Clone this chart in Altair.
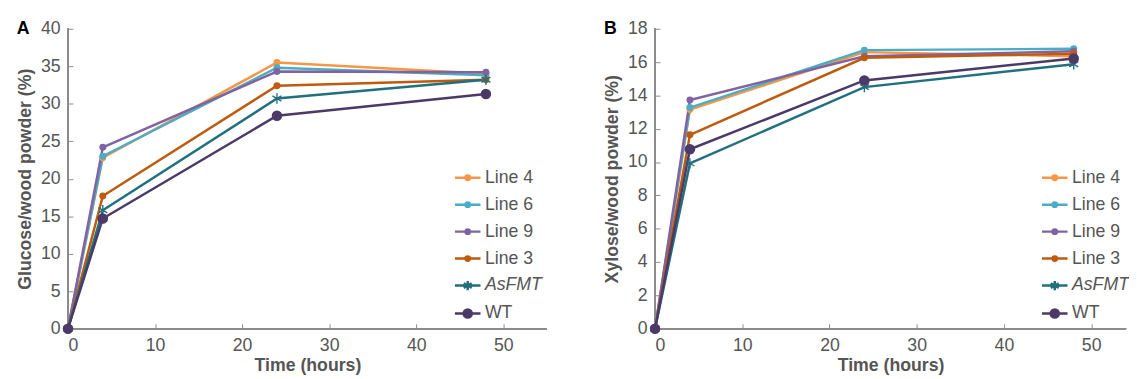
import altair as alt
import pandas as pd

# ---------------- data ----------------
times = [0, 4, 24, 48]
series_names = ["Line 4", "Line 6", "Line 9", "Line 3", "AsFMT", "WT"]
series_colors = ["#F79646", "#4BACC6", "#8064A2", "#BE5B0E", "#21707E", "#4B3A67"]

glucose_line4 = [0, 22.8, 35.5, 34.0]
glucose_line6 = [0, 23.0, 34.8, 33.8]
glucose_line9 = [0, 24.2, 34.3, 34.2]
glucose_line3 = [0, 17.7, 32.4, 33.2]
glucose_asfmt = [0, 15.8, 30.7, 33.2]
glucose_wt = [0, 14.7, 28.4, 31.3]

xylose_line4 = [0, 13.15, 16.6, 16.35]
xylose_line6 = [0, 13.27, 16.72, 16.8]
xylose_line9 = [0, 13.72, 16.35, 16.65]
xylose_line3 = [0, 11.64, 16.26, 16.5]
xylose_asfmt = [0, 9.92, 14.5, 15.87]
xylose_wt = [0, 10.77, 14.9, 16.22]

glucose_ticks = [0, 5, 10, 15, 20, 25, 30, 35, 40]
xylose_ticks = [0, 2, 4, 6, 8, 10, 12, 14, 16, 18]
time_ticks = [0, 10, 20, 30, 40, 50]


def long_table(cols):
    rows = []
    for name, colr, vals in zip(series_names, series_colors, cols):
        for t, v in zip(times, vals):
            rows.append({"time": t, "value": v, "series": name, "colr": colr})
    return pd.DataFrame(rows)


glucose_df = long_table([glucose_line4, glucose_line6, glucose_line9,
                         glucose_line3, glucose_asfmt, glucose_wt])
xylose_df = long_table([xylose_line4, xylose_line6, xylose_line9,
                        xylose_line3, xylose_asfmt, xylose_wt])

# ---------------- styling ----------------
FONT = "Liberation Sans"
AXIS_GREY = "#8c8c8c"
TEXT_GREY = "#555555"
STAR = "M0,-1L0,1M-0.87,-0.5L0.87,0.5M-0.87,0.5L0.87,-0.5"


def ring(r):
    return "M-%g,0A%g,%g 0 1,0 %g,0A%g,%g 0 1,0 -%g,0Z" % (r, r, r, r, r, r, r)


LEG_DOT = "M-1,0L1,0" + ring(0.17) + ring(0.07)
LEG_BIG = "M-1,0L1,0" + ring(0.32) + ring(0.2) + ring(0.08)
LEG_STAR = "M-1,0L1,0M0,-0.36L0,0.36M-0.31,-0.18L0.31,0.18M-0.31,0.18L0.31,-0.18"
legend_shapes = [LEG_DOT, LEG_DOT, LEG_DOT, LEG_DOT, LEG_STAR, LEG_BIG]


def panel(df, ytitle, yticks, ymax, xmax, width, label):
    xscale = alt.Scale(domain=[0, xmax], nice=False)
    yscale = alt.Scale(domain=[0, ymax], nice=False)
    xaxis = alt.Axis(values=time_ticks, title="Time (hours)", offset=-5,
                     domain=False, tickSize=5, labelPadding=8, titlePadding=3)
    yaxis = alt.Axis(values=yticks, title=ytitle, offset=-5,
                     domain=False, tickSize=5, labelPadding=8, titlePadding=6)
    xenc = alt.X("time:Q", scale=xscale, axis=xaxis)
    yenc = alt.Y("value:Q", scale=yscale, axis=yaxis)
    colr = alt.Color("colr:N", scale=None)
    base = alt.Chart(df)

    xline = base.mark_rule(color=AXIS_GREY, strokeWidth=1).encode(
        x=alt.XDatum(0, scale=xscale, axis=xaxis), x2=alt.X2Datum(xmax),
        y=alt.YDatum(0, scale=yscale, axis=yaxis))
    yline = base.mark_rule(color=AXIS_GREY, strokeWidth=1).encode(
        x=alt.XDatum(0, scale=xscale, axis=xaxis),
        y=alt.YDatum(0, scale=yscale, axis=yaxis), y2=alt.Y2Datum(ymax))

    lines = base.mark_line(strokeWidth=2.5).encode(
        x=xenc, y=yenc, color=colr, detail="series:N", order=alt.Order("time:Q"),
    )
    dots = base.transform_filter(
        "datum.series != 'AsFMT' && datum.series != 'WT'"
    ).mark_point(filled=True, shape="circle", size=50, opacity=1).encode(
        x=xenc, y=yenc, color=colr,
    )
    stars = base.transform_filter("datum.series == 'AsFMT'").mark_point(
        filled=False, shape=STAR, size=110, strokeWidth=1.4, opacity=1
    ).encode(x=xenc, y=yenc, color=colr)
    big = base.transform_filter("datum.series == 'WT'").mark_point(
        filled=True, shape="circle", size=115, opacity=1
    ).encode(x=xenc, y=yenc, color=colr)

    leg = alt.Legend(
        title=None, orient="none", legendX=392, legendY=137, padding=0,
        labelFont=FONT, labelFontSize=18, labelColor=TEXT_GREY,
        labelFontStyle={"expr": "datum.label === 'AsFMT' ? 'italic' : 'normal'"},
        symbolSize=676, symbolStrokeWidth=2.5, symbolOpacity=1,
        rowPadding=3.4, labelOffset=3,
    )
    # layer without visible data, carrying only the legend (line + marker symbols)
    legend_layer = base.transform_filter("datum.time < 0").mark_point(
        filled=False, size=676, strokeWidth=2.5, opacity=1
    ).encode(
        x=xenc, y=yenc,
        stroke=alt.Stroke("series:N", scale=alt.Scale(domain=series_names, range=series_colors),
                          legend=leg),
        shape=alt.Shape("series:N", scale=alt.Scale(domain=series_names, range=legend_shapes),
                        legend=leg),
    )

    return alt.layer(xline, yline, lines, dots, stars, big, legend_layer).properties(
        width=width, height=305,
        title=alt.Title(label, anchor="start", frame="bounds", fontSize=18,
                        fontWeight="bold", color="black", font=FONT, offset=-18),
    )


pa = panel(glucose_df, "Glucose/wood powder (%)", glucose_ticks, 40, 55, 487, "A")
pb = panel(xylose_df, "Xylose/wood powder (%)", xylose_ticks, 18, 54, 479, "B")

chart = alt.hconcat(pa, pb, spacing=56).resolve_scale(
    x="independent", y="independent", stroke="independent", shape="independent"
).configure(
    font=FONT,
).configure_view(stroke=None).configure_axis(
    grid=False, domainColor=AXIS_GREY, tickColor=AXIS_GREY, tickWidth=1,
    labelColor=TEXT_GREY, titleColor=TEXT_GREY, labelFontSize=18, titleFontSize=18,
    labelFont=FONT, titleFont=FONT, titleFontWeight="bold",
).properties(padding={"left": 8, "top": 9, "right": 0, "bottom": 0})

chart.save("out.html", embed_options={"renderer": "svg", "actions": False})
